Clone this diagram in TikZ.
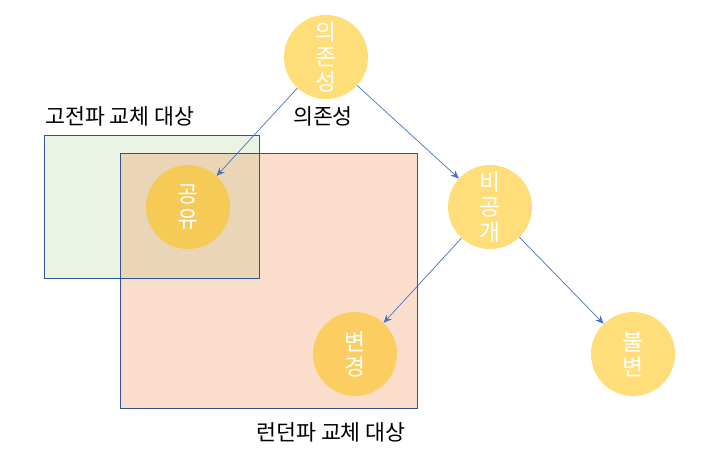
\documentclass[tikz,border=0pt]{standalone}
\usepackage{fontspec}
\setmainfont{Noto Sans CJK KR}
\usetikzlibrary{arrows.meta}
\definecolor{bubble}{HTML}{FFC000}
\definecolor{frame}{HTML}{2F5597}
\definecolor{link}{HTML}{4472C4}
\definecolor{classic}{HTML}{70AD47}
\definecolor{london}{HTML}{ED7D31}

\begin{document}
\begin{tikzpicture}[x=0.03cm, y=-0.03cm,
bubble/.style={circle, fill=bubble, fill opacity=.52, text opacity=1,
text=white, minimum size=2.52cm, inner sep=0pt, align=center,
font=\fontsize{19.5}{21.5}\selectfont},
tag/.style={font=\fontsize{18.5}{20}\selectfont, inner sep=0pt},
link/.style={draw=link, line width=.6pt, -{Stealth[length=7pt, width=6pt]}}]
\useasboundingbox (0,0) rectangle (713,466);
% the two replacement areas
\fill[classic, fill opacity=.15] (44,135) rectangle (259,278);
\fill[london, fill opacity=.25] (120,153) rectangle (417,408);
\draw[frame, line width=.8pt] (44,135) rectangle (259,278);
\draw[frame, line width=.8pt] (120,153) rectangle (417,408);
\node[tag, anchor=west] (classic) at (45,116) {고전파 교체 대상};
\node[tag] (london) at (331,432) {런던파 교체 대상};
\foreach \n/\x/\y/\t in {dep/326/57/{의\\존\\성}, shared/188/207/{공\\유},
private/490/207/{비\\공\\개}, changed/355/354/{변\\경}, immut/633/354/{불\\변}}{
\node[bubble] (\n) at (\x,\y) {\t};}
\node[tag] (deplabel) at (323,116) {의존성};
\draw[link] (dep) -- (shared);
\draw[link] (dep) -- (private);
\draw[link] (private) -- (changed);
\draw[link] (private) -- (immut);
\end{tikzpicture}
\end{document}
